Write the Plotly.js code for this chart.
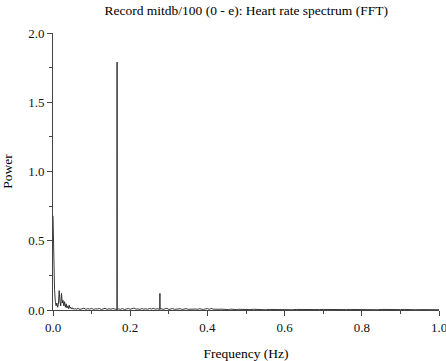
<!DOCTYPE html>
<html>
<head>
<meta charset="utf-8">
<script src="https://cdn.plot.ly/plotly-3.0.1.min.js"></script>
<style>html,body{margin:0;padding:0;background:#fff}#chart{width:446px;height:361px}</style>
</head>
<body>
<div id="chart"></div>
<script>
// Frequencies (Hz) and spectral power
const freqLow = [0.000,0.002,0.004,0.006,0.008,0.010,0.012,0.014,0.016,0.018,0.020,0.022,0.024,0.026,0.028,0.030,0.032,0.034,0.036,0.038,0.040,0.042,0.044,0.046,0.048,0.050,0.052,0.054,0.056,0.058];
const powLow  = [0.68,0.22,0.15,0.06,0.03,0.05,0.02,0.04,0.14,0.06,0.03,0.12,0.05,0.07,0.03,0.06,0.02,0.045,0.015,0.03,0.01,0.035,0.012,0.02,0.008,0.016,0.006,0.012,0.005,0.010];

const freqMid = [0.060,0.065,0.070,0.075,0.080,0.085,0.090,0.095,0.100,0.105,0.110,0.115,0.120,0.125,0.130,0.135,0.140,0.145,0.150,0.155,0.160,0.1659,0.166,0.1661,0.170,0.175,0.180,0.185,0.190,0.195,0.200,0.205,0.210,0.215,0.220,0.225,0.230,0.235,0.240,0.245,0.250,0.255,0.260,0.265,0.270,0.2769,0.277,0.2771,0.280,0.285,0.290,0.295,0.300,0.305,0.310,0.315,0.320,0.325,0.330,0.335,0.340,0.345,0.350,0.355,0.360,0.365,0.370,0.375,0.380,0.385,0.390,0.395,0.400,0.405,0.410,0.415,0.420,0.425,0.430,0.435,0.440,0.445,0.450,0.455,0.460,0.465,0.470,0.475,0.480,0.485,0.490,0.495];
const powMid  = [0.006,0.011,0.004,0.009,0.013,0.005,0.010,0.006,0.012,0.004,0.009,0.007,0.011,0.004,0.008,0.012,0.005,0.009,0.006,0.010,0.007,0.004,1.79,0.004,0.008,0.005,0.010,0.004,0.007,0.011,0.005,0.009,0.014,0.006,0.008,0.004,0.010,0.006,0.009,0.005,0.011,0.007,0.012,0.006,0.009,0.005,0.12,0.006,0.010,0.005,0.008,0.012,0.004,0.007,0.010,0.005,0.008,0.006,0.009,0.004,0.007,0.010,0.005,0.006,0.008,0.004,0.007,0.005,0.009,0.006,0.004,0.008,0.010,0.005,0.011,0.006,0.004,0.007,0.005,0.006,0.004,0.006,0.005,0.003,0.006,0.004,0.005,0.003,0.005,0.004,0.003,0.005];

const freqHigh = [0.50,0.51,0.52,0.53,0.54,0.55,0.56,0.57,0.58,0.59,0.60,0.61,0.62,0.63,0.64,0.65,0.66,0.67,0.68,0.69,0.70,0.71,0.72,0.73,0.74,0.75,0.76,0.77,0.78,0.79,0.80,0.81,0.82,0.83,0.84,0.85,0.86,0.87,0.88,0.89,0.90,0.91,0.92,0.93,0.94,0.95,0.96,0.97,0.98,0.99,1.00];
const powHigh  = [0.004,0.003,0.005,0.003,0.004,0.002,0.004,0.003,0.005,0.003,0.004,0.003,0.002,0.004,0.003,0.005,0.003,0.004,0.002,0.003,0.004,0.003,0.002,0.004,0.003,0.002,0.003,0.004,0.003,0.002,0.003,0.004,0.002,0.003,0.002,0.004,0.003,0.002,0.003,0.002,0.003,0.004,0.002,0.003,0.002,0.003,0.002,0.003,0.002,0.003,0.002];

const freq = freqLow.concat(freqMid, freqHigh);
const power = powLow.concat(powMid, powHigh);

const xTickVals = [0, 0.2, 0.4, 0.6, 0.8, 1.0];
const xTickText = ["0.0","0.2","0.4","0.6","0.8","1.0"];
const yTickVals = [0, 0.5, 1.0, 1.5, 2.0];
const yTickText = ["0.0","0.5","1.0","1.5","2.0"];

const family = '"Liberation Serif", "Times New Roman", serif';
const tickFont = {family: family, size: 13, color: '#111'};

Plotly.newPlot('chart', [{
  x: freq, y: power, type: 'scatter', mode: 'lines',
  line: {color: '#222', width: 0.9}, hoverinfo: 'skip'
}], {
  width: 446, height: 361,
  margin: {l: 53, r: 7, t: 33, b: 51},
  paper_bgcolor: '#fff', plot_bgcolor: '#fff',
  font: tickFont,
  showlegend: false,
  title: {text: 'Record mitdb/100 (0 - e): Heart rate spectrum (FFT)', font: {family: family, size: 13.5, color: '#000'}, x: 0.552, xanchor: 'center', y: 0.972, yanchor: 'middle'},
  xaxis: {
    range: [0, 1], showgrid: false, zeroline: false, showline: true, linecolor: '#444', linewidth: 1,
    ticks: 'outside', ticklen: 5, tickcolor: '#444', tickvals: xTickVals, ticktext: xTickText,
    ticklabeloverflow: 'allow',
    minor: {ticks: 'outside', dtick: 0.1, ticklen: 3, tickcolor: '#444', showgrid: false},
    tickfont: tickFont,
    title: {text: 'Frequency (Hz)', font: {family: family, size: 13.5, color: '#000'}, standoff: 20}
  },
  yaxis: {
    range: [0, 2], showgrid: false, zeroline: false, showline: true, linecolor: '#444', linewidth: 1,
    ticks: 'outside', ticklen: 5, tickcolor: '#444', tickvals: yTickVals, ticktext: yTickText,
    minor: {ticks: 'outside', dtick: 0.25, ticklen: 3, tickcolor: '#444', showgrid: false},
    tickfont: tickFont,
    title: {text: 'Power', font: {family: family, size: 13.5, color: '#000'}, standoff: 14}
  }
}, {displayModeBar: false, staticPlot: true});
</script>
</body>
</html>
